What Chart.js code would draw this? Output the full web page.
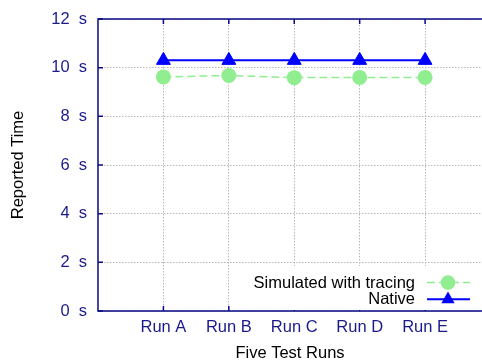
<!DOCTYPE html>
<html>
<head>
<meta charset="utf-8">
<script src="https://cdn.jsdelivr.net/npm/chart.js@4/dist/chart.umd.min.js"></script>
<style>
  html, body { margin: 0; padding: 0; background: #fff; overflow: hidden; }
  #wrap { width: 482px; height: 360px; position: relative; }
</style>
</head>
<body>
<div id="wrap"><canvas id="c" width="482" height="360"></canvas></div>
<script>
// ---- data ----
const categories = ["Run A", "Run B", "Run C", "Run D", "Run E"];
const simulatedTimes = [9.62, 9.68, 9.59, 9.60, 9.60];
const nativeTimes = [10.3, 10.3, 10.3, 10.3, 10.3];
const yTicks = [0, 2, 4, 6, 8, 10, 12];
const seriesNames = ["Simulated with tracing", "Native"];

const FONT = "'Liberation Sans', Arial, Helvetica, sans-serif";
const AXIS_COLOR = "#0a0a86";
const LABEL_COLOR = "#1a1a8c";
const GRID_COLOR = "#b8b8b8";
const SIM_COLOR = "#90ee90";
const NAT_COLOR = "#0000ff";

const toPoints = arr => arr.map((v, i) => ({ x: i + 1, y: v }));

const framePlugin = {
  id: "frame",
  afterDatasetsDraw(chart) {
    const { ctx, chartArea: a, scales } = chart;
    ctx.save();
    ctx.strokeStyle = AXIS_COLOR;
    ctx.lineWidth = 1.5;
    ctx.beginPath();
    yTicks.forEach(v => {
      const y = scales.y.getPixelForValue(v);
      ctx.moveTo(a.left, y); ctx.lineTo(a.left + 5, y);
    });
    categories.forEach((c, i) => {
      const x = scales.x.getPixelForValue(i + 1);
      ctx.moveTo(x, a.bottom); ctx.lineTo(x, a.bottom - 5);
      ctx.moveTo(x, a.top); ctx.lineTo(x, a.top + 5);
    });
    ctx.stroke();
    ctx.beginPath();
    ctx.moveTo(a.right + 2, a.top);
    ctx.lineTo(a.left, a.top);
    ctx.lineTo(a.left, a.bottom);
    ctx.lineTo(a.right + 2, a.bottom);
    ctx.stroke();
    ctx.restore();
  },
  afterDraw(chart) {
    const { ctx, chartArea: a } = chart;
    const ds = chart.data.datasets;
    ctx.save();
    ctx.fillStyle = "#fff";
    ctx.fillRect(240, 266, a.right - 240, a.bottom - 266 - 1);
    ctx.font = "16.5px " + FONT;
    ctx.textAlign = "right";
    ctx.textBaseline = "middle";
    const rows = [282.6, 299.3];
    ds.forEach((d, i) => {
      const y = rows[i];
      ctx.fillStyle = "#000";
      ctx.fillText(d.label, 415, y + 0.5);
      ctx.strokeStyle = d.borderColor;
      ctx.lineWidth = d.borderWidth;
      ctx.setLineDash(d.borderDash || []);
      ctx.beginPath();
      ctx.moveTo(427, y); ctx.lineTo(470, y);
      ctx.stroke();
      ctx.setLineDash([]);
      ctx.fillStyle = d.pointBackgroundColor;
      ctx.beginPath();
      if (d.pointStyle === "triangle") {
        const r = 7.7;
        ctx.moveTo(448, y - r);
        ctx.lineTo(448 + r * Math.sin(2 * Math.PI / 3), y - r * Math.cos(2 * Math.PI / 3));
        ctx.lineTo(448 + r * Math.sin(4 * Math.PI / 3), y - r * Math.cos(4 * Math.PI / 3));
        ctx.closePath();
      } else {
        ctx.arc(448, y, 7.3, 0, Math.PI * 2);
      }
      ctx.fill();
    });
    ctx.restore();
  }
};

new Chart(document.getElementById("c"), {
  type: "line",
  data: {
    datasets: [
      {
        label: seriesNames[0],
        data: toPoints(simulatedTimes),
        borderColor: SIM_COLOR,
        borderWidth: 1.5,
        borderDash: [8, 4],
        pointStyle: "circle",
        pointRadius: 7.5,
        pointBorderWidth: 0,
        pointBackgroundColor: SIM_COLOR,
        pointBorderColor: SIM_COLOR,
        fill: false,
        tension: 0
      },
      {
        label: seriesNames[1],
        data: toPoints(nativeTimes),
        borderColor: NAT_COLOR,
        borderWidth: 2,
        pointStyle: "triangle",
        pointRadius: 8,
        pointBorderWidth: 1,
        pointBackgroundColor: NAT_COLOR,
        pointBorderColor: NAT_COLOR,
        fill: false,
        tension: 0
      }
    ]
  },
  options: {
    responsive: false,
    animation: false,
    events: [],
    layout: { autoPadding: false, padding: { top: 19, right: 0, bottom: 0, left: 0 } },
    plugins: { legend: { display: false }, tooltip: { enabled: false } },
    scales: {
      x: {
        type: "linear",
        min: 0,
        max: 5.87,
        afterBuildTicks: s => { s.ticks = categories.map((c, i) => ({ value: i + 1 })); },
        afterFit: s => { s.height = 49; s.paddingLeft = 0; s.paddingRight = 0; },
        ticks: {
          autoSkip: false,
          maxRotation: 0,
          padding: 7,
          color: LABEL_COLOR,
          font: { family: FONT, size: 16.5 },
          callback: v => categories[v - 1]
        },
        grid: { color: GRID_COLOR, lineWidth: 1, drawTicks: false },
        border: { display: false, dash: [1.5, 1.5] },
        title: {
          display: true,
          text: "Five Test Runs",
          color: "#000",
          font: { family: FONT, size: 16.5, lineHeight: 0.85 },
          padding: { top: 0, bottom: 0 }
        }
      },
      y: {
        type: "linear",
        min: 0,
        max: 12,
        afterBuildTicks: s => { s.ticks = yTicks.map(v => ({ value: v })); },
        afterFit: s => { s.width = 98; s.paddingTop = 0; s.paddingBottom = 0; },
        ticks: {
          padding: 11,
          color: LABEL_COLOR,
          font: { family: FONT, size: 16.5 },
          callback: v => v + "  s"
        },
        grid: { color: GRID_COLOR, lineWidth: 1, drawTicks: false },
        border: { display: false, dash: [1.5, 1.5] },
        title: {
          display: true,
          text: "Reported Time",
          color: "#000",
          font: { family: FONT, size: 16.5, lineHeight: 1 },
          padding: { top: 10, bottom: 0 }
        }
      }
    }
  },
  plugins: [framePlugin]
});
</script>
</body>
</html>
